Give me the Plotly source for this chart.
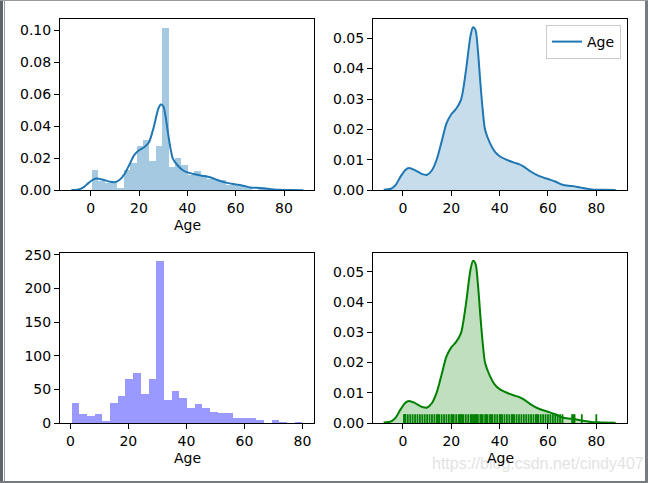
import plotly.graph_objects as go

# ---------------- data ----------------
bin_start = 0.42
bin_end = 80.0
age_counts = [30, 14, 10, 14, 3, 29, 40, 65, 74, 43,
              65, 240, 34, 47, 37, 22, 28, 22, 16, 15,
              15, 7, 8, 7, 4, 0, 5, 1, 0, 1]

kde_x = [-8, -5, -3, -1, 1, 2.5, 5, 8, 10, 12, 14, 16, 18, 20, 22, 24, 26, 28,
         29, 30, 31, 32, 33, 34, 36, 38, 40, 43, 46, 48, 50, 53, 56, 60, 63,
         66, 70, 74, 78, 82, 88]
kde_y = [0.0002, 0.0005, 0.0018, 0.0045, 0.0067, 0.0073, 0.0066, 0.0053, 0.0051,
         0.0066, 0.0102, 0.0160, 0.0220, 0.0250, 0.0268, 0.0297, 0.0390, 0.0510,
         0.0536, 0.0527, 0.0460, 0.0357, 0.0264, 0.0198, 0.0155, 0.0127, 0.0112,
         0.0100, 0.0091, 0.0086, 0.0078, 0.0061, 0.0048, 0.0037, 0.0029, 0.0018,
         0.0014, 0.0008, 0.0003, 0.0002, 0.0001]

rug_ages = [0.42, 0.67, 0.75, 0.83, 0.92, 1, 2, 3, 4, 5, 6, 7, 8, 9, 10, 11, 12,
            13, 14, 14.5, 15, 16, 17, 18, 19, 20, 20.5, 21, 22, 23, 23.5, 24,
            24.5, 25, 26, 27, 28, 28.5, 29, 29.7, 30, 30.5, 31, 32, 32.5, 33, 34,
            34.5, 35, 36, 36.5, 37, 38, 39, 40, 40.5, 41, 42, 43, 44, 45, 45.5,
            46, 47, 48, 49, 50, 51, 52, 53, 54, 55, 55.5, 56, 57, 58, 59, 60, 61,
            62, 63, 64, 65, 66, 70, 70.5, 71, 74, 80]

x_ticks = [0, 20, 40, 60, 80]
x_title = "Age"

# ---------------- derived ----------------
n_bins = len(age_counts)
bw = (bin_end - bin_start) / n_bins
centers = [bin_start + (i + 0.5) * bw for i in range(n_bins)]
total = sum(age_counts)
density = [c / (total * bw) for c in age_counts]

rug_h = 0.0029
rug_x, rug_y = [], []
for a in rug_ages:
    rug_x += [a, a, None]
    rug_y += [0, rug_h, None]

BLUE = "#1f77b4"
FONT = "DejaVu Sans"

fig = go.Figure()

# top-left: histogram (density) + kde
fig.add_trace(go.Bar(x=centers, y=density, width=bw, marker=dict(color="rgba(31,119,180,0.4)", line=dict(width=0)),
                     xaxis="x", yaxis="y", showlegend=False, hoverinfo="skip"))
fig.add_trace(go.Scatter(x=kde_x, y=kde_y, mode="lines", line=dict(color=BLUE, width=2, shape="spline", smoothing=0.8),
                         xaxis="x", yaxis="y", showlegend=False))

# top-right: shaded kde with legend (line-only legend entry)
fig.add_trace(go.Scatter(x=kde_x, y=kde_y, mode="lines", fill="tozeroy",
                         fillcolor="rgba(31,119,180,0.25)", line=dict(width=0),
                         xaxis="x2", yaxis="y2", showlegend=False, hoverinfo="skip"))
fig.add_trace(go.Scatter(x=kde_x, y=kde_y, mode="lines", name="Age",
                         line=dict(color=BLUE, width=2, shape="spline", smoothing=0.8),
                         xaxis="x2", yaxis="y2", showlegend=True))

# bottom-left: counts histogram
fig.add_trace(go.Bar(x=centers, y=age_counts, width=bw, marker=dict(color="rgba(0,0,255,0.4)", line=dict(width=0)),
                     xaxis="x3", yaxis="y3", showlegend=False))

# bottom-right: green kde + rug
fig.add_trace(go.Scatter(x=kde_x, y=kde_y, mode="lines", fill="tozeroy",
                         fillcolor="rgba(0,128,0,0.25)",
                         line=dict(color="#008000", width=2, shape="spline", smoothing=0.8),
                         xaxis="x4", yaxis="y4", showlegend=False))
fig.add_trace(go.Scatter(x=rug_x, y=rug_y, mode="lines", line=dict(color="#008000", width=1.8),
                         xaxis="x4", yaxis="y4", showlegend=False))

W, H = 648, 483
def dx(a, b):
    return [a / W, b / W]
def dy(top, bot):
    return [1 - bot / H, 1 - top / H]

axis_common = dict(showline=True, linecolor="black", linewidth=1, mirror=True,
                   ticks="outside", ticklen=5, tickcolor="black", tickwidth=1, automargin=False,
                   showgrid=False, zeroline=False, tickfont=dict(family=FONT, size=14, color="black"))

def xax(domain, rng, anchor):
    return dict(axis_common, domain=domain, range=rng, anchor=anchor, tickvals=x_ticks)

def yax(domain, rng, anchor, tickvals, fmt):
    return dict(axis_common, domain=domain, range=rng, anchor=anchor, tickvals=tickvals, tickformat=fmt)

top = dy(19.3, 190.3)
bot = dy(253, 423)
left = dx(60, 314)
right = dx(373, 627)

def title_ann(xc, yc):
    return dict(text=x_title, x=xc / W, y=1 - yc / H, xref="paper", yref="paper", showarrow=False,
                xanchor="center", yanchor="middle", font=dict(family=FONT, size=14, color="black"))

annotations = [
    dict(text="https://blog.csdn.net/cindy407", x=430 / W, y=1 - 463 / H, xref="paper", yref="paper",
         xanchor="left", yanchor="middle", showarrow=False,
         font=dict(family="Liberation Sans", size=16, color="#e3e3e3")),
    title_ann(187, 225),
    title_ann(187, 458),
    title_ann(500, 458),
]

fig.update_layout(
    width=W, height=H, autosize=False,
    margin=dict(l=0, r=0, t=0, b=0, pad=0),
    paper_bgcolor="white", plot_bgcolor="white",
    font=dict(family=FONT, size=14, color="black"),
    bargap=0,
    xaxis=xax(left, [-12.7, 92.4], "y"),
    yaxis=yax(top, [0, 0.1069], "x", [0, 0.02, 0.04, 0.06, 0.08, 0.10], ".2f"),
    xaxis2=xax(right, [-12.4, 92.7], "y2"),
    yaxis2=yax(top, [0, 0.0562], "x2", [0, 0.01, 0.02, 0.03, 0.04, 0.05], ".2f"),
    xaxis3=xax(left, [-3.56, 83.98], "y3"),
    yaxis3=yax(bot, [0, 252.5], "x3", [0, 50, 100, 150, 200, 250], "d"),
    xaxis4=xax(right, [-12.4, 92.7], "y4"),
    yaxis4=yax(bot, [0, 0.0562], "x4", [0, 0.01, 0.02, 0.03, 0.04, 0.05], ".2f"),
    legend=dict(x=621 / W, y=1 - 25 / H, xanchor="right", yanchor="top",
                bgcolor="rgba(255,255,255,0.8)", bordercolor="#cccccc", borderwidth=1,
                font=dict(family=FONT, size=14, color="black")),
    annotations=annotations,
    shapes=[
        dict(type="rect", xref="paper", yref="paper", x0=0, x1=3 / W, y0=0, y1=1,
             fillcolor="#5f646b", line=dict(width=0), layer="above"),
        dict(type="line", xref="paper", yref="paper", x0=4.5 / W, x1=4.5 / W, y0=0, y1=1,
             line=dict(color="#9a9a9a", width=1), layer="above"),
        dict(type="rect", xref="paper", yref="paper", x0=645 / W, x1=1, y0=0, y1=1,
             fillcolor="#777b80", line=dict(width=0), layer="above"),
        dict(type="rect", xref="paper", yref="paper", x0=0, x1=1, y0=0, y1=2 / H,
             fillcolor="#777b80", line=dict(width=0), layer="above"),
        dict(type="line", xref="paper", yref="paper", x0=0, x1=1, y0=1 - 0.5 / H, y1=1 - 0.5 / H,
             line=dict(color="#9a9a9a", width=1), layer="above"),
    ],
)

post = ("document.body.style.margin='0';document.body.style.padding='0';"
        "document.body.style.overflow='hidden';"
        "var d=document.getElementById('{plot_id}');"
        "d.style.position='absolute';d.style.left='0px';d.style.top='0px';")
fig.write_html("out.html", post_script=post, config={"displayModeBar": False})
